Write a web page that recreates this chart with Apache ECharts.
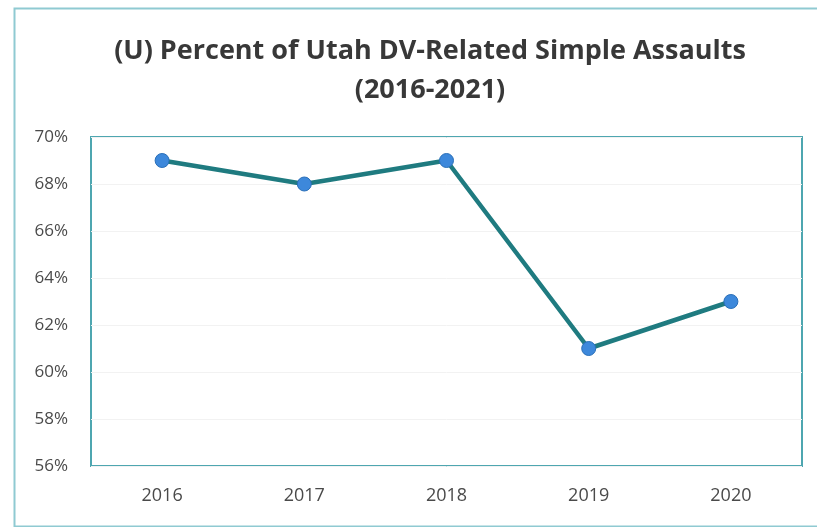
<!DOCTYPE html>
<html><head><meta charset="utf-8">
<script src="https://cdn.jsdelivr.net/npm/echarts@6/dist/echarts.min.js"></script>
<style>html,body{margin:0;padding:0;background:#fff}#c{width:817px;height:527px}</style>
</head><body><div id="c"></div>
<script>
const categories = ['2016', '2017', '2018', '2019', '2020'];
const values = [69, 68, 69, 61, 63];
const titleText = '(U) Percent of Utah DV-Related Simple Assaults\n(2016-2021)';

const chart = echarts.init(document.getElementById('c'), null, {renderer: 'canvas'});
chart.setOption({
  backgroundColor: '#ffffff',
  animation: false,
  graphic: [{
    type: 'rect', left: 12, top: 6, shape: {width: 900, height: 518},
    style: {fill: 'none', stroke: '#8fcad2', lineWidth: 2}, z: -1
  }],
  title: {
    text: titleText, left: 425, top: 27, textAlign: 'center',
    textStyle: {fontFamily: 'Open Sans', fontWeight: 'bold', fontSize: 27, color: '#383838', lineHeight: 39}
  },
  grid: {left: 91, right: 15, top: 137, bottom: 61, show: true, borderColor: '#4ea6b0', borderWidth: 2},
  xAxis: {
    type: 'category', data: categories, boundaryGap: true,
    axisLine: {show: false}, axisTick: {show: false},
    axisLabel: {margin: 21, fontFamily: 'Open Sans', fontSize: 18, color: '#4a4a4a'}
  },
  yAxis: {
    type: 'value', min: 56, max: 70, interval: 2,
    axisLine: {show: false}, axisTick: {show: false},
    splitLine: {lineStyle: {color: '#f2f2f2', width: 1}},
    axisLabel: {margin: 23, fontFamily: 'Open Sans', fontSize: 17, color: '#4a4a4a', formatter: '{value}%'}
  },
  series: [{
    type: 'line', data: values,
    lineStyle: {color: '#1f7b80', width: 4.5},
    symbol: 'circle', symbolSize: 14,
    itemStyle: {color: '#3d88db', borderColor: '#2a6fb8', borderWidth: 1}
  }]
});
</script></body></html>
